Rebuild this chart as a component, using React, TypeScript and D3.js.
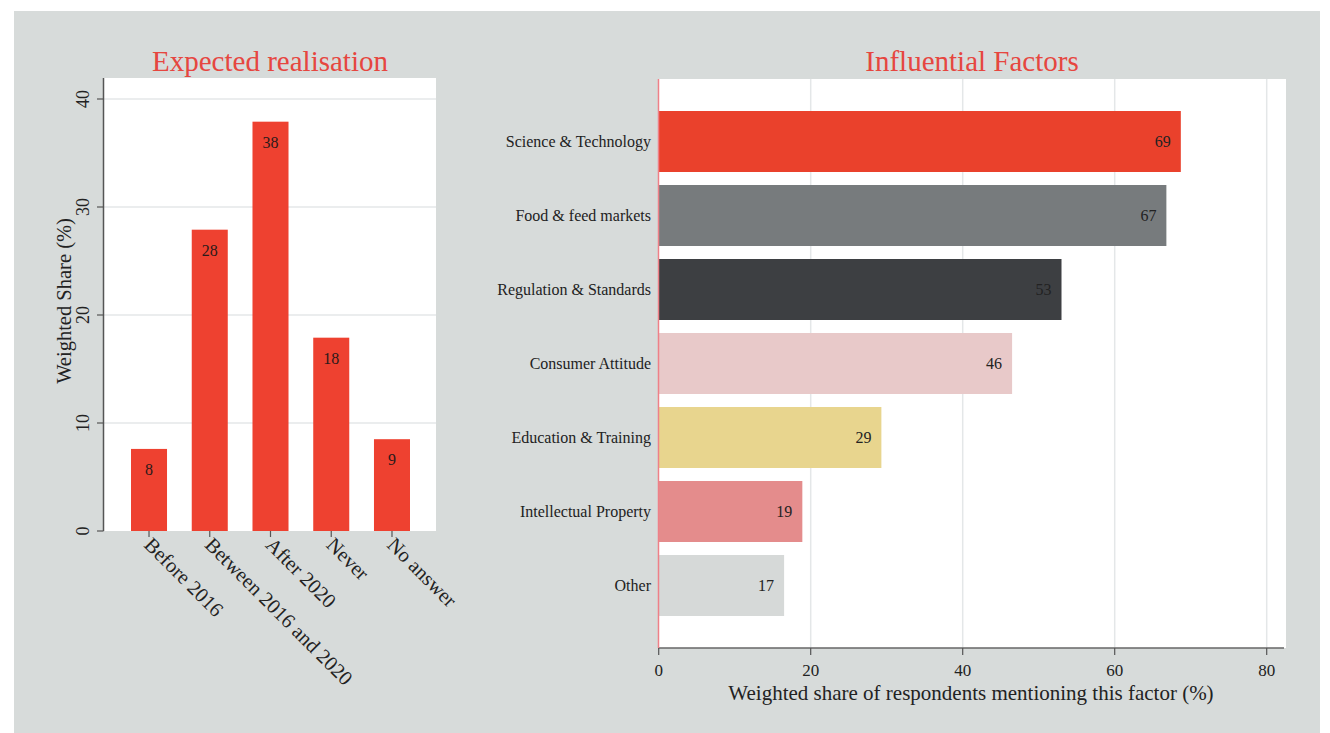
import React from "react";
import * as d3 from "d3";

const leftTitle = "Expected realisation";
const rightTitle = "Influential Factors";
const leftCategories = ["Before 2016", "Between 2016 and 2020", "After 2020", "Never", "No answer"];
const leftValues = [7.6, 27.9, 37.9, 17.9, 8.5];
const leftLabels = ["8", "28", "38", "18", "9"];
const leftTicks = [0, 10, 20, 30, 40];
const leftYTitle = "Weighted Share (%)";

const rightCategories = [
  "Science & Technology",
  "Food & feed markets",
  "Regulation & Standards",
  "Consumer Attitude",
  "Education & Training",
  "Intellectual Property",
  "Other",
];
const rightValues = [68.7, 66.8, 53.0, 46.5, 29.3, 18.9, 16.5];
const rightLabels = ["69", "67", "53", "46", "29", "19", "17"];
const rightColors = ["#ea412c", "#777b7d", "#3d3f42", "#e8c9c9", "#e8d58e", "#e48c8c", "#d6d9d8"];
const rightTicks = [0, 20, 40, 60, 80];
const rightXTitle = "Weighted share of respondents mentioning this factor (%)";

const FONT = "'Liberation Serif', serif";
const RED = "#ee4130";
const TITLE_RED = "#e6463f";
const GRID = "#e4e7e8";

export default function App() {
  // Left panel scales
  const lx0 = 104, lx1 = 436, lTop = 78, lBottom = 531;
  const ly = d3.scaleLinear().domain([0, 40]).range([531, 99]);
  const lx = d3.scaleBand().domain(leftCategories).range([131, 410]).paddingInner(0.407).paddingOuter(0);

  // Right panel scales
  const rx0 = 658, rx1 = 1286, rTop = 79, rBottom = 648;
  const rx = d3.scaleLinear().domain([0, 80]).range([658.7, 1266.7]);
  const ry = d3.scaleBand().domain(rightCategories).range([111, 616]).paddingInner(0.1757).paddingOuter(0);

  return (
    <svg width={1330} height={733} style={{ position: "absolute", left: 0, top: 0 }} fontFamily={FONT}>
      <rect x={0} y={0} width={1330} height={733} fill="#ffffff" />
      <rect x={14} y={11} width={1306} height={722} fill="#d7dbda" />

      {/* Left panel */}
      <text x={270} y={71} textAnchor="middle" fontSize={29} fill={TITLE_RED}>{leftTitle}</text>
      <rect x={lx0} y={lTop} width={lx1 - lx0} height={lBottom - lTop} fill="#ffffff" />
      {leftTicks.filter((t) => t > 0).map((t) => (
        <line key={t} x1={lx0} x2={lx1} y1={ly(t)} y2={ly(t)} stroke={GRID} strokeWidth={1.5} />
      ))}
      {leftCategories.map((c, i) => (
        <g key={c}>
          <rect x={lx(c)} y={ly(leftValues[i])} width={lx.bandwidth()} height={ly(0) - ly(leftValues[i])} fill={RED} />
          <text x={(lx(c) as number) + lx.bandwidth() / 2} y={ly(leftValues[i]) + 26} textAnchor="middle" fontSize={16} fill="#2a1a1a">
            {leftLabels[i]}
          </text>
          <line x1={(lx(c) as number) + lx.bandwidth() / 2} x2={(lx(c) as number) + lx.bandwidth() / 2} y1={lBottom} y2={lBottom + 6} stroke="#555" strokeWidth={1.2} />
          <text
            transform={`translate(${(lx(c) as number) + lx.bandwidth() / 2 - 6},${546}) rotate(45)`}
            textAnchor="start"
            fontSize={20.5}
            fill="#222"
          >
            {c}
          </text>
        </g>
      ))}
      <line x1={103.5} x2={103.5} y1={lTop} y2={lBottom} stroke="#555" strokeWidth={1.5} />
      {leftTicks.map((t) => (
        <g key={t}>
          <line x1={97} x2={103.5} y1={ly(t)} y2={ly(t)} stroke="#555" strokeWidth={1.2} />
          <text transform={`translate(89,${ly(t)}) rotate(-90)`} textAnchor="middle" fontSize={18} fill="#222">{t}</text>
        </g>
      ))}
      <text transform={`translate(71,301) rotate(-90)`} textAnchor="middle" fontSize={20.5} fill="#222">{leftYTitle}</text>

      {/* Right panel */}
      <text x={972} y={71} textAnchor="middle" fontSize={29} fill={TITLE_RED}>{rightTitle}</text>
      <rect x={rx0} y={rTop} width={rx1 - rx0} height={rBottom - rTop} fill="#ffffff" />
      {rightTicks.filter((t) => t > 0).map((t) => (
        <line key={t} x1={rx(t)} x2={rx(t)} y1={rTop} y2={rBottom} stroke={GRID} strokeWidth={1.5} />
      ))}
      {rightCategories.map((c, i) => (
        <g key={c}>
          <rect x={rx(0)} y={ry(c)} width={rx(rightValues[i]) - rx(0)} height={ry.bandwidth()} fill={rightColors[i]} />
          <text x={rx(rightValues[i]) - 10} y={(ry(c) as number) + ry.bandwidth() / 2} dy="0.35em" textAnchor="end" fontSize={16} fill="#222">
            {rightLabels[i]}
          </text>
          <text x={651} y={(ry(c) as number) + ry.bandwidth() / 2} dy="0.35em" textAnchor="end" fontSize={16} fill="#222">
            {c}
          </text>
        </g>
      ))}
      <line x1={rx0} x2={1284} y1={rBottom} y2={rBottom} stroke="#666" strokeWidth={1.5} />
      <line x1={658.5} x2={658.5} y1={rTop} y2={rBottom} stroke="#ee8088" strokeWidth={1.5} />
      {rightTicks.map((t) => (
        <g key={t}>
          <line x1={rx(t)} x2={rx(t)} y1={rBottom} y2={rBottom + 7} stroke="#555" strokeWidth={1.2} />
          <text x={rx(t)} y={676} textAnchor="middle" fontSize={17} fill="#222">{t}</text>
        </g>
      ))}
      <text x={971} y={700} textAnchor="middle" fontSize={21} fill="#222">{rightXTitle}</text>
    </svg>
  );
}
